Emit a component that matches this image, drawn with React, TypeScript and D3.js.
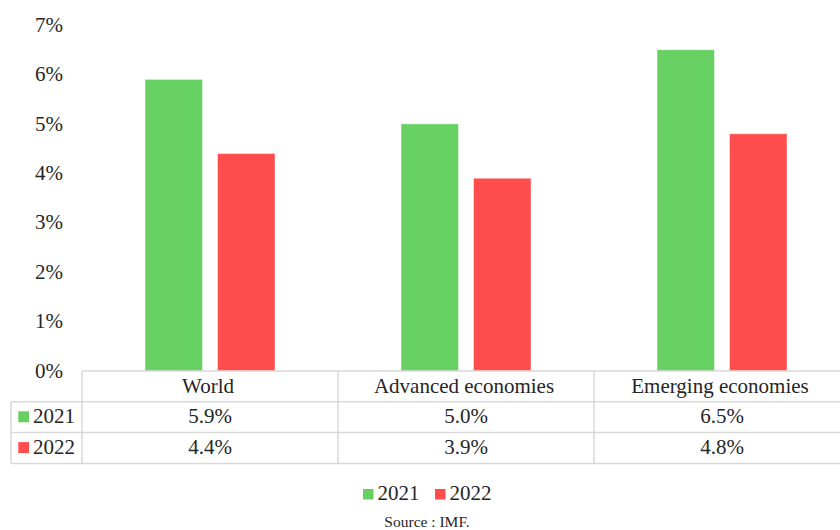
import React from "react";
import * as d3 from "d3";

const categories = ["World", "Advanced economies", "Emerging economies"];
const seriesNames = ["2021", "2022"];
const values2021 = [5.9, 5.0, 6.5];
const values2022 = [4.4, 3.9, 4.8];
const yTicks = [0, 1, 2, 3, 4, 5, 6, 7];
const colors = ["#66d162", "#ff4d4d"];
const sourceNote = "Source : IMF.";

const W = 840;
const H = 530;
const font = "Liberation Serif, DejaVu Serif, Times New Roman, serif";
const textColor = "#262626";
const gridColor = "#d9d9d9";

const txt = (size: number) => ({ fontFamily: font, fontSize: size, fill: textColor });

const App = () => {
  const seriesValues = [values2021, values2022];

  // plot geometry
  const y = d3.scaleLinear().domain([0, 7]).range([371, 25]);
  const x = d3.scaleBand().domain(categories).range([82, 850]).padding(0);
  const inner = d3
    .scaleBand()
    .domain(seriesNames)
    .range([63, x.bandwidth() - 63])
    .paddingInner(0.207);

  // table rows
  const headerTop = 371;
  const rowH = 30.8;
  const tableLeft = 11;
  const rowTops = seriesNames.map((_, i) => headerTop + rowH * (i + 1));
  const tableBottom = headerTop + rowH * (seriesNames.length + 1);
  const fmt = d3.format(".1f");

  return (
    <div style={{ position: "fixed", left: 0, top: 0 }}>
      <svg width={W} height={H} style={{ display: "block", background: "#fff" }}>
        {/* y axis labels */}
        {yTicks.map((t) => (
          <text key={t} x={63} y={y(t)} dy="0.32em" textAnchor="end" style={txt(21)}>
            {t}%
          </text>
        ))}

        {/* bars */}
        {categories.map((c, ci) => (
          <g key={c} transform={`translate(${x(c)},0)`}>
            {seriesNames.map((s, si) => (
              <rect
                key={s}
                x={inner(s)}
                y={y(seriesValues[si][ci])}
                width={inner.bandwidth()}
                height={y(0) - y(seriesValues[si][ci])}
                fill={colors[si]}
                stroke="rgba(255,255,255,0.45)"
                strokeWidth={1}
              />
            ))}
          </g>
        ))}

        {/* data table grid */}
        <g stroke={gridColor} strokeWidth={1.5} fill="none">
          <line x1={82} x2={850} y1={headerTop} y2={headerTop} />
          {rowTops.map((ry) => (
            <line key={ry} x1={tableLeft} x2={850} y1={ry} y2={ry} />
          ))}
          <line x1={tableLeft} x2={850} y1={tableBottom} y2={tableBottom} />
          <line x1={tableLeft} x2={tableLeft} y1={rowTops[0]} y2={tableBottom} />
          {categories.map((c) => (
            <line key={c} x1={x(c)} x2={x(c)} y1={headerTop} y2={tableBottom} />
          ))}
        </g>

        {/* table header */}
        {categories.map((c) => (
          <text
            key={c}
            x={(x(c) ?? 0) + x.bandwidth() / 2 - 2}
            y={headerTop + 21.5}
            textAnchor="middle"
            style={txt(21)}
          >
            {c}
          </text>
        ))}

        {/* table rows */}
        {seriesNames.map((s, si) => (
          <g key={s}>
            <rect x={18.3} y={rowTops[si] + 9.5} width={10.7} height={11} fill={colors[si]} />
            <text x={33} y={rowTops[si] + 21.5} style={txt(21)}>
              {s}
            </text>
            {categories.map((c, ci) => (
              <text
                key={c}
                x={(x(c) ?? 0) + x.bandwidth() / 2}
                y={rowTops[si] + 21.5}
                textAnchor="middle"
                style={txt(21)}
              >
                {fmt(seriesValues[si][ci])}%
              </text>
            ))}
          </g>
        ))}

        {/* legend */}
        {seriesNames.map((s, si) => (
          <g key={s} transform={`translate(${363 + si * 72},0)`}>
            <rect x={0} y={489} width={10.5} height={10.5} fill={colors[si]} />
            <text x={14.5} y={500} style={txt(21)}>
              {s}
            </text>
          </g>
        ))}

        {/* source */}
        <text x={427} y={527} textAnchor="middle" style={txt(15.5)}>
          {sourceNote}
        </text>
      </svg>
    </div>
  );
};

export default App;
